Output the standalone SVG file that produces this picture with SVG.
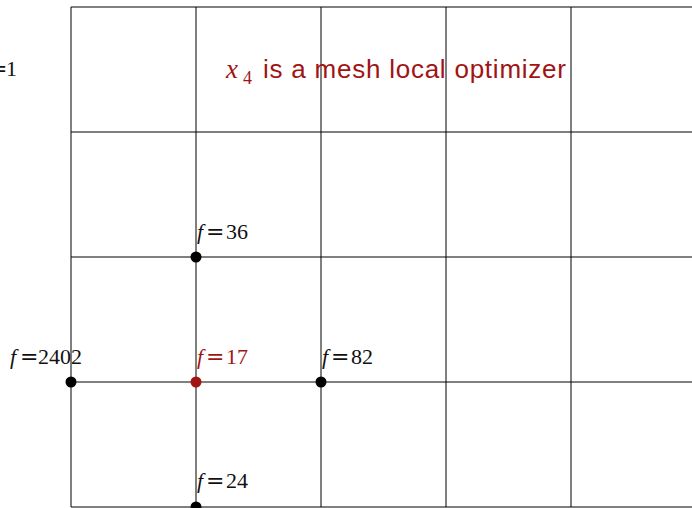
<svg xmlns="http://www.w3.org/2000/svg" width="692" height="508" viewBox="0 0 692 508">
<style>
.g{stroke:#000;stroke-width:1;fill:none}
.lbl{font-family:"Liberation Serif",serif;font-size:22px;fill:#111}
.fi{font-style:italic}
.eq{font-family:"DejaVu Serif",serif;font-size:22px}
.red{fill:#a01414}
.ttl{font-family:"Liberation Sans",sans-serif;font-size:26px;fill:#a01414}
</style>
<rect width="692" height="508" fill="#fff"/>
<g id="connectors">
<path class="g" d="M71 7H692M71 132H692M71 257H692M71 382H692M71 507H692M71 7V507M196 7V507M321 7V507M446 7V507M571 7V507"/>
</g>
<g id="title">
<text x="226" y="78" font-family="Liberation Serif,serif" font-style="italic" font-size="27" fill="#a01414">x</text>
<text x="243" y="84" font-family="Liberation Serif,serif" font-size="18" fill="#a01414">4</text>
<text class="ttl" x="263" y="78" textLength="303" lengthAdjust="spacing">is a mesh local optimizer</text>
</g>
<g id="n-left-clipped">
<text class="lbl" y="76"><tspan class="eq" x="-11">=</tspan><tspan x="6">1</tspan></text>
</g>
<g id="n-36">
<circle cx="196" cy="257" r="5.5" fill="#000"/>
<text class="lbl" y="239"><tspan class="fi" x="197">f</tspan><tspan class="eq" x="206">=</tspan><tspan x="226">36</tspan></text>
</g>
<g id="n-2402">
<circle cx="71" cy="382" r="5.5" fill="#000"/>
<text class="lbl" y="364"><tspan class="fi" x="10">f</tspan><tspan class="eq" x="20">=</tspan><tspan x="38">2402</tspan></text>
</g>
<g id="n-17">
<circle cx="196" cy="382" r="5.5" fill="#a01414"/>
<text class="lbl red" y="364"><tspan class="fi" x="197">f</tspan><tspan class="eq" x="206">=</tspan><tspan x="226">17</tspan></text>
</g>
<g id="n-82">
<circle cx="321" cy="382" r="5.5" fill="#000"/>
<text class="lbl" y="364"><tspan class="fi" x="322">f</tspan><tspan class="eq" x="331">=</tspan><tspan x="351">82</tspan></text>
</g>
<g id="n-24">
<circle cx="196" cy="507" r="5.5" fill="#000"/>
<text class="lbl" y="488"><tspan class="fi" x="197">f</tspan><tspan class="eq" x="206">=</tspan><tspan x="226">24</tspan></text>
</g>
</svg>
